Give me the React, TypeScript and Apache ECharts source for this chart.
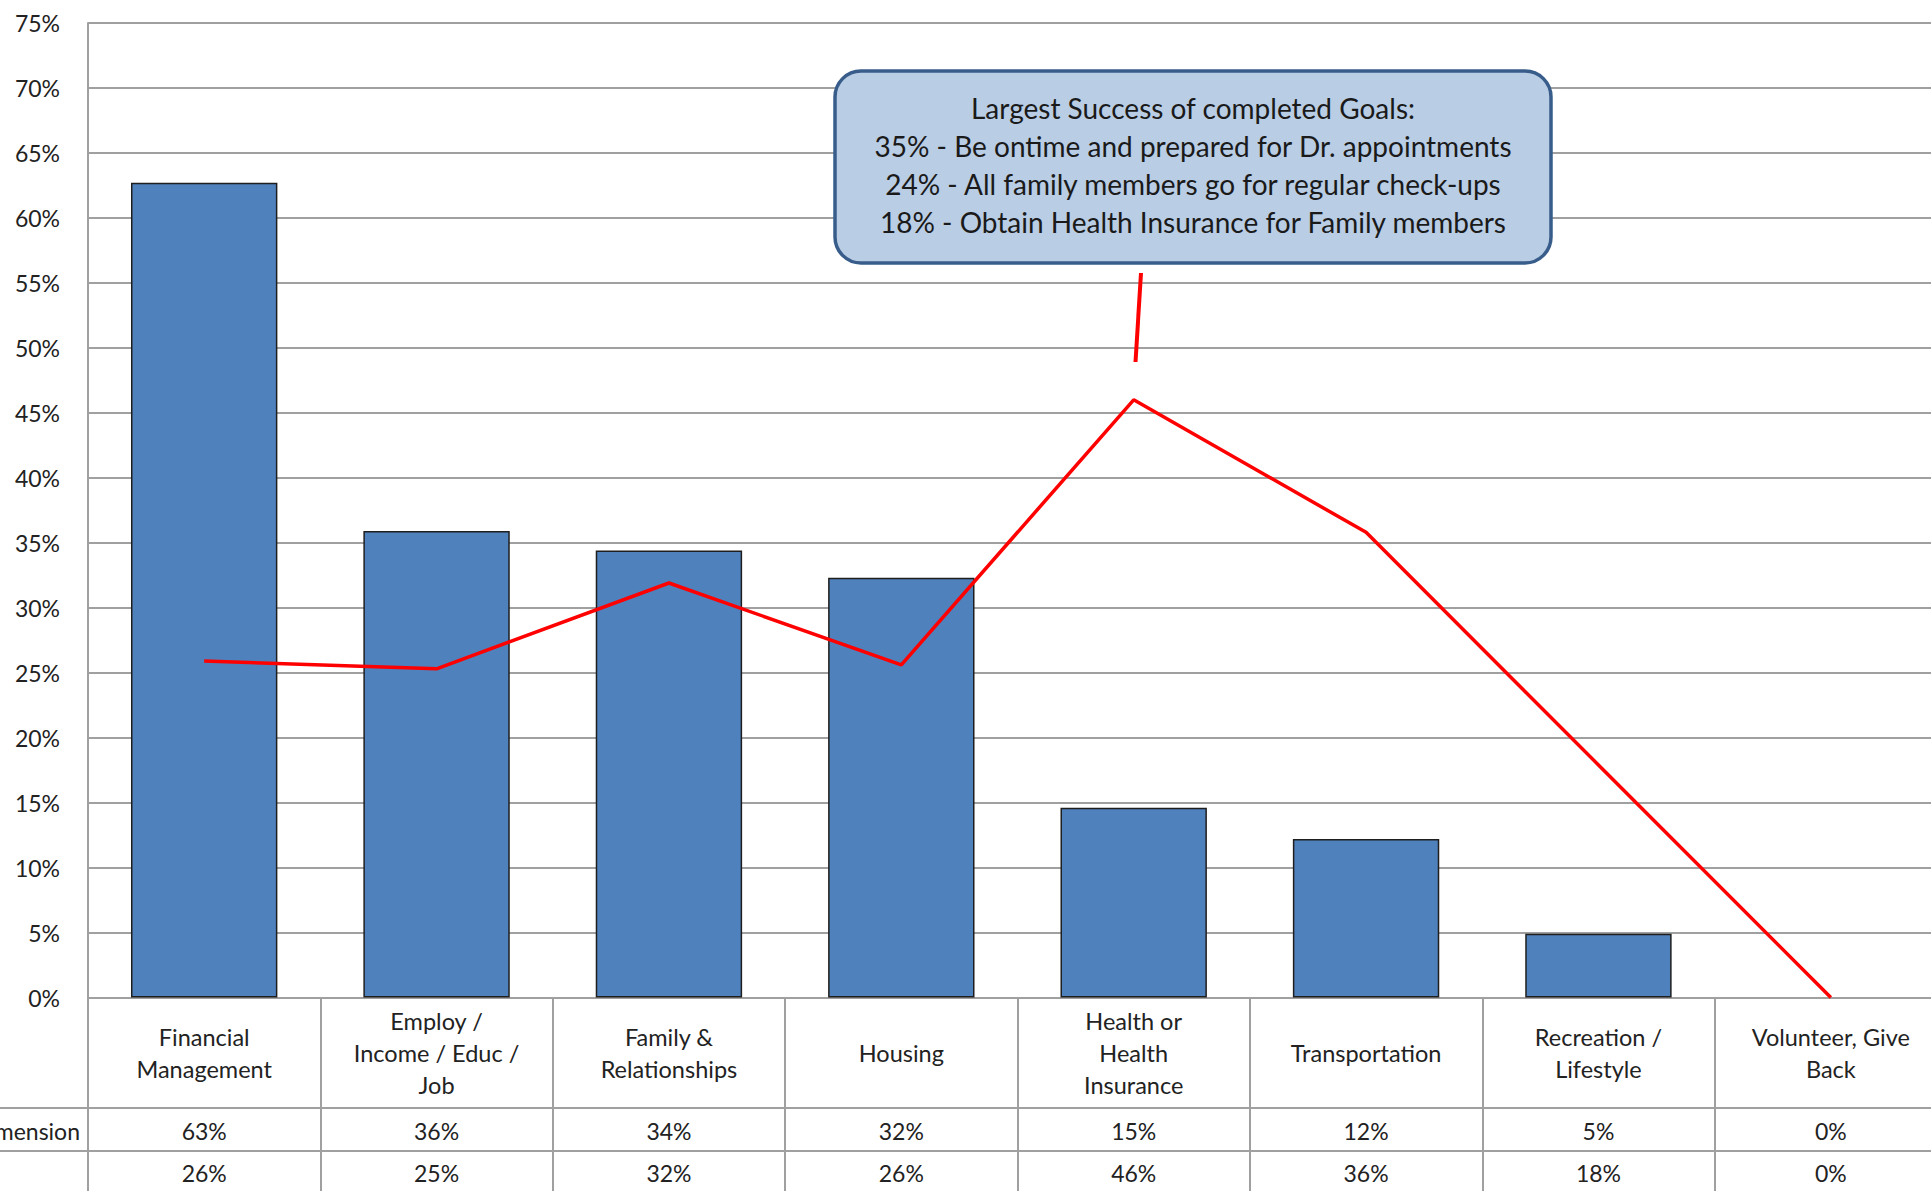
import React, { useEffect, useRef } from "react";
import * as echarts from "echarts";

const categories = [
  "Financial\nManagement",
  "Employ /\nIncome / Educ /\nJob",
  "Family &\nRelationships",
  "Housing",
  "Health or\nHealth\nInsurance",
  "Transportation",
  "Recreation /\nLifestyle",
  "Volunteer, Give\nBack",
];
const goalsByDimension = [62.7, 35.9, 34.4, 32.3, 14.6, 12.2, 4.9, 0];
const completedGoals = [25.9, 25.3, 31.9, 25.6, 46.0, 35.8, 17.9, 0];
const rowLabel = "Dimension";
const calloutLines = [
  "Largest Success of completed Goals:",
  "35% - Be ontime and prepared for Dr. appointments",
  "24% - All family members go for regular check-ups",
  "18% - Obtain Health Insurance for Family members",
];
const yMin = 0;
const yMax = 75;
const yStep = 5;

const FONT = "Lato, 'Open Sans', sans-serif";
const GRID_GRAY = "#a0a0a0";
const TEXT = "#222222";

export default function App() {
  const ref = useRef<HTMLDivElement>(null);

  useEffect(() => {
    if (!ref.current) return;
    const chart = echarts.init(ref.current, undefined, { renderer: "svg" });
    const pct = (arr: number[]) => (_v: string, i: number) => Math.round(arr[i]) + "%";
    chart.setOption({
      animation: false,
      backgroundColor: "#ffffff",
      textStyle: { fontFamily: FONT },
      grid: { left: 88, right: 13, top: 23, bottom: 193.5, containLabel: false },
      xAxis: [
        {
          type: "category",
          data: categories,
          position: "bottom",
          axisLine: { show: true, lineStyle: { color: GRID_GRAY, width: 2 } },
          axisTick: { show: true, length: 200, alignWithLabel: false, lineStyle: { color: GRID_GRAY, width: 2 } },
          axisLabel: {
            interval: 0,
            margin: 55,
            verticalAlign: "middle",
            lineHeight: 32,
            fontSize: 23.5,
            color: TEXT,
            fontFamily: FONT,
          },
        },
        {
          type: "category",
          data: categories,
          position: "bottom",
          axisLine: { show: false },
          axisTick: { show: false },
          axisLabel: {
            interval: 0,
            margin: 133.5,
            verticalAlign: "middle",
            fontSize: 23,
            color: TEXT,
            fontFamily: FONT,
            formatter: pct(goalsByDimension),
          },
        },
        {
          type: "category",
          data: categories,
          position: "bottom",
          axisLine: { show: false },
          axisTick: { show: false },
          axisLabel: {
            interval: 0,
            margin: 175,
            verticalAlign: "middle",
            fontSize: 23,
            color: TEXT,
            fontFamily: FONT,
            formatter: pct(completedGoals),
          },
        },
      ],
      yAxis: {
        type: "value",
        min: yMin,
        max: yMax,
        interval: yStep,
        axisLine: { show: true, lineStyle: { color: GRID_GRAY, width: 2 } },
        axisTick: { show: false },
        splitLine: { show: true, lineStyle: { color: GRID_GRAY, width: 2 } },
        axisLabel: {
          formatter: "{value}%",
          fontSize: 23,
          margin: 28,
          color: TEXT,
          fontFamily: FONT,
        },
      },
      series: [
        {
          name: "Goals by Dimension",
          type: "bar",
          xAxisIndex: 0,
          data: goalsByDimension.map((v) =>
            v === 0 ? { value: v, itemStyle: { borderWidth: 0 } } : v
          ),
          barCategoryGap: "37%",
          itemStyle: { color: "#4F81BD", borderColor: "#1e1e1e", borderWidth: 1.5 },
          z: 2,
        },
        {
          name: "Completed Goals",
          type: "line",
          xAxisIndex: 0,
          data: completedGoals,
          symbol: "none",
          showSymbol: false,
          lineStyle: { color: "#FF0000", width: 3.5 },
          itemStyle: { color: "#FF0000" },
          z: 3,
        },
      ],
      graphic: [
        {
          type: "line",
          shape: { x1: 0, y1: 1108, x2: 1960, y2: 1108 },
          style: { stroke: GRID_GRAY, lineWidth: 2 },
          z: 10,
        },
        {
          type: "line",
          shape: { x1: 0, y1: 1151, x2: 1960, y2: 1151 },
          style: { stroke: GRID_GRAY, lineWidth: 2 },
          z: 10,
        },
        {
          type: "text",
          x: 80,
          y: 1131,
          style: {
            text: rowLabel,
            fill: TEXT,
            font: `23px ${FONT}`,
            textAlign: "right",
            textVerticalAlign: "middle",
          },
          z: 10,
        },
        {
          type: "rect",
          shape: { x: 835, y: 71, width: 716, height: 192, r: 26 },
          style: { fill: "#B9CDE5", stroke: "#385D8A", lineWidth: 3.5 },
          z: 20,
        },
        {
          type: "text",
          x: 1193,
          y: 165,
          style: {
            text: calloutLines.join("\n"),
            fill: "#1a1a1a",
            font: `28px ${FONT}`,
            lineHeight: 38,
            textAlign: "center",
            textVerticalAlign: "middle",
          },
          z: 21,
        },
        {
          type: "line",
          shape: { x1: 1141, y1: 273, x2: 1135.5, y2: 362 },
          style: { stroke: "#FF0000", lineWidth: 4 },
          z: 20,
        },
      ],
    });
    return () => chart.dispose();
  }, []);

  return (
    <div style={{ position: "absolute", left: 0, top: 0, width: 1931, height: 1191, overflow: "hidden", background: "#fff" }}>
      <div ref={ref} style={{ width: 1960, height: 1191 }} />
    </div>
  );
}
